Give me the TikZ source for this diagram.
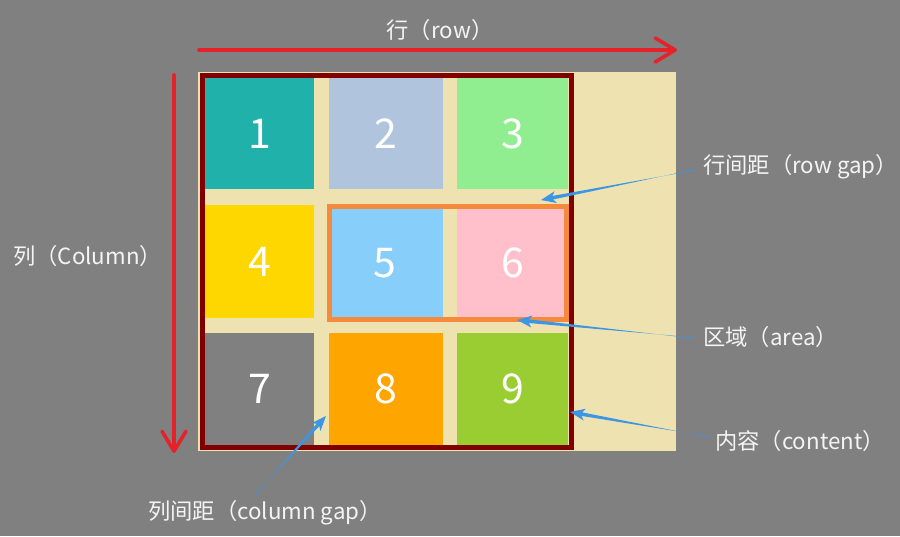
\documentclass[tikz,border=0pt]{standalone}
\usepackage{fontspec}
\setmainfont{Noto Sans CJK SC}
\usetikzlibrary{calc,arrows.meta}
\definecolor{bgc}{HTML}{808080}
\definecolor{beige}{HTML}{EEE3B0}
\definecolor{maroonc}{HTML}{800000}
\definecolor{areac}{HTML}{F58A3C}
\definecolor{redc}{HTML}{E5222A}
\definecolor{bluec}{HTML}{3D96E4}
\definecolor{c1}{HTML}{20B2AA}
\definecolor{c2}{HTML}{B0C4DE}
\definecolor{c3}{HTML}{90EE90}
\definecolor{c4}{HTML}{FFD700}
\definecolor{c5}{HTML}{87CEFA}
\definecolor{c6}{HTML}{FFC0CB}
\definecolor{c7}{HTML}{808080}
\definecolor{c8}{HTML}{FFA500}
\definecolor{c9}{HTML}{9ACD32}
\definecolor{txt}{HTML}{F4F4F4}
\newcommand\blueptr[2]{%
  \coordinate (hbA) at ($(#2)!12pt!(#1)$);
  \coordinate (hbB) at ($(#2)!15pt!(#1)$);
  \fill[bluec] ($(#1)!0.5pt!90:(#2)$)
    -- ($(hbA)!1.8pt!-90:(#2)$)
    -- ($(hbB)!6pt!-90:(#2)$)
    -- (#2)
    -- ($(hbB)!6pt!90:(#2)$)
    -- ($(hbA)!1.8pt!90:(#2)$)
    -- ($(#1)!0.5pt!-90:(#2)$) -- cycle;}
\begin{document}
\begin{tikzpicture}[x=1pt,y=-1pt,
  cell/.style={inner sep=0pt, text=white, font=\fontsize{41}{41}\selectfont},
  lbl/.style={inner sep=0pt, text=txt, font=\fontsize{22.3}{22.3}\selectfont},
  redarrow/.style={draw=redc, line width=3.6pt, line cap=round,
     -{Straight Barb[length=20pt,width=24pt,round]}}]
\useasboundingbox (0,0) rectangle (900,536);
\fill[bgc] (0,0) rectangle (900,536);
% container
\fill[beige] (198,72) rectangle (676,451);
% cells
\node[cell, fill=c1, minimum width=109pt, minimum height=111pt] (n1) at (259.5,133.5) {1};
\node[cell, fill=c2, minimum width=114pt, minimum height=111pt] (n2) at (386,133.5) {2};
\node[cell, fill=c3, minimum width=111pt, minimum height=111pt] (n3) at (512.5,133.5) {3};
\node[cell, fill=c4, minimum width=109pt, minimum height=113pt] (n4) at (259.5,261.5) {4};
\node[cell, fill=c5, minimum width=116pt, minimum height=118pt] (n5) at (385,263) {5};
\node[cell, fill=c6, minimum width=111pt, minimum height=118pt] (n6) at (512.5,263) {6};
\node[cell, fill=c7, minimum width=109pt, minimum height=112pt] (n7) at (259.5,389) {7};
\node[cell, fill=c8, minimum width=114pt, minimum height=112pt] (n8) at (386,389) {8};
\node[cell, fill=c9, minimum width=111pt, minimum height=112pt] (n9) at (512.5,389) {9};
% area border
\draw[areac, line width=5pt] (329.5,206.5) rectangle (566.5,319.5);
% content border
\draw[maroonc, line width=5.5pt] (202.5,75.5) rectangle (571.5,447.5);
% red axes
\coordinate (rowS) at (199,50);
\coordinate (rowE) at (677,50);
\coordinate (colS) at (174,75);
\coordinate (colE) at (174,453);
\draw[redarrow] (rowS) -- (rowE);
\draw[redarrow] (colS) -- (colE);
% labels
\node[lbl] (lrow) at (440,30) {行（row）};
\node[lbl, anchor=west] (lcol) at (13,256) {列（Column）};
\node[lbl, anchor=west] (lrg) at (703,167) {行间距（row gap）};
\node[lbl, anchor=west] (larea) at (703,337) {区域（area）};
\node[lbl, anchor=west] (lcont) at (715,441) {内容（content）};
\node[lbl, anchor=west] (lcg) at (148,513) {列间距（column gap）};
% blue pointers
\coordinate (rgT) at (694,170);
\coordinate (rgP) at (541,200);
\coordinate (arT) at (694,338);
\coordinate (arP) at (517,320);
\coordinate (coT) at (709,437);
\coordinate (coP) at (570,412);
\coordinate (cgT) at (255,495);
\coordinate (cgP) at (326,416);
\blueptr{rgT}{rgP}
\blueptr{arT}{arP}
\blueptr{coT}{coP}
\blueptr{cgT}{cgP}
\end{tikzpicture}
\end{document}
